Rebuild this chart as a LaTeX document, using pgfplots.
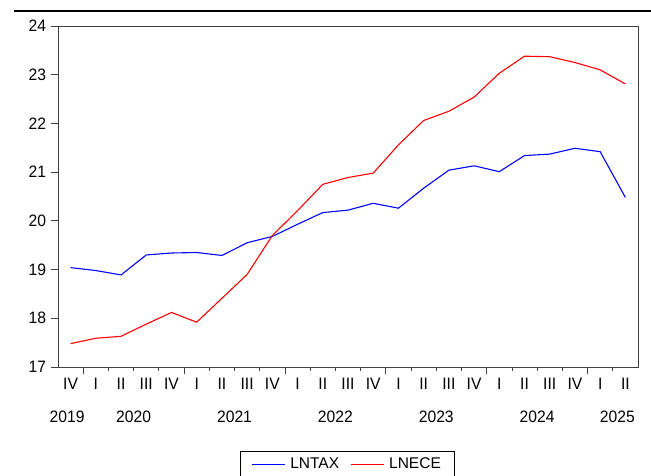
\documentclass[border=0pt]{standalone}
\usepackage{fontspec}
\setmainfont{Liberation Sans}
\newfontfamily\tickfont{Liberation Sans}[FakeStretch=0.95]
\usepackage{pgfplots}
\pgfplotsset{compat=1.18}
\newcommand\tf{\tickfont\fontsize{16.5bp}{19bp}\selectfont}
\begin{document}
\fontsize{15.5bp}{18bp}\selectfont
\begin{tikzpicture}
\useasboundingbox (-58bp,-109bp) rectangle (593bp,367bp);
\draw[line width=2bp] (-44bp,355.5bp) -- (593bp,355.5bp);
\begin{axis}[
  at={(0,0)}, anchor=south west,
  scale only axis, width=580bp, height=341bp,
  clip=false,
  xmin=-0.5, xmax=22.5, ymin=17, ymax=24,
  axis line style={draw=black!75, line width=0.9pt},
  every tick/.style={black!75, line width=0.8pt},
  tick align=outside, tick pos=left,
  ticklabel style={font=\tf},
  /pgf/number format/assume math mode=true,
  ytick={17,...,24},
  xtick={0.5,4.5,8.5,12.5,16.5,20.5}, xticklabels={},
  minor xtick={1.5,2.5,3.5,5.5,6.5,7.5,9.5,10.5,11.5,13.5,14.5,15.5,17.5,18.5,19.5,21.5},
  major tick length=6.5bp, minor tick length=3.5bp,
  extra x ticks={0,...,22},
  extra x tick labels={IV,I,II,III,IV,I,II,III,IV,I,II,III,IV,I,II,III,IV,I,II,III,IV,I,II},
  extra x tick style={major tick length=0pt, xticklabel style={yshift=-6bp}},
  legend style={at={(rel axis cs:0.4983,-0.2455)}, anchor=north, legend columns=2,
    font=\fontsize{15.5bp}{18bp}\selectfont, line width=0.6pt, inner xsep=11bp, inner ysep=5bp,
    /tikz/every odd column/.append style={column sep=3bp},
    /tikz/every even column/.append style={column sep=9bp}},
]
\addplot[blue, line width=1.1pt,
  legend image code/.code={\draw[blue, line width=1.1pt] (0bp,0bp) -- (33bp,0bp);}] coordinates {
(0,19.04) (1,18.98) (2,18.89) (3,19.30) (4,19.34) (5,19.35) (6,19.29) (7,19.55)
(8,19.68) (9,19.93) (10,20.17) (11,20.22) (12,20.36) (13,20.26) (14,20.67) (15,21.04)
(16,21.13) (17,21.01) (18,21.34) (19,21.37) (20,21.49) (21,21.42) (22,20.48)};
\addlegendentry{LNTAX}
\addplot[red, line width=1.1pt,
  legend image code/.code={\draw[red, line width=1.1pt] (0bp,0bp) -- (33bp,0bp);}] coordinates {
(0,17.48) (1,17.59) (2,17.63) (3,17.88) (4,18.12) (5,17.92) (6,18.41) (7,18.90)
(8,19.70) (9,20.21) (10,20.75) (11,20.89) (12,20.98) (13,21.56) (14,22.06) (15,22.25)
(16,22.54) (17,23.03) (18,23.38) (19,23.37) (20,23.25) (21,23.10) (22,22.81)};
\addlegendentry{LNECE}
\node[anchor=base, font=\tf] at (axis cs:-0.14,17) [yshift=-55.5bp] {2019};
\node[anchor=base, font=\tf] at (axis cs:2.5,17) [yshift=-55.5bp] {2020};
\node[anchor=base, font=\tf] at (axis cs:6.5,17) [yshift=-55.5bp] {2021};
\node[anchor=base, font=\tf] at (axis cs:10.5,17) [yshift=-55.5bp] {2022};
\node[anchor=base, font=\tf] at (axis cs:14.5,17) [yshift=-55.5bp] {2023};
\node[anchor=base, font=\tf] at (axis cs:18.5,17) [yshift=-55.5bp] {2024};
\node[anchor=base, font=\tf] at (axis cs:21.68,17) [yshift=-55.5bp] {2025};
\end{axis}
\end{tikzpicture}
\end{document}
